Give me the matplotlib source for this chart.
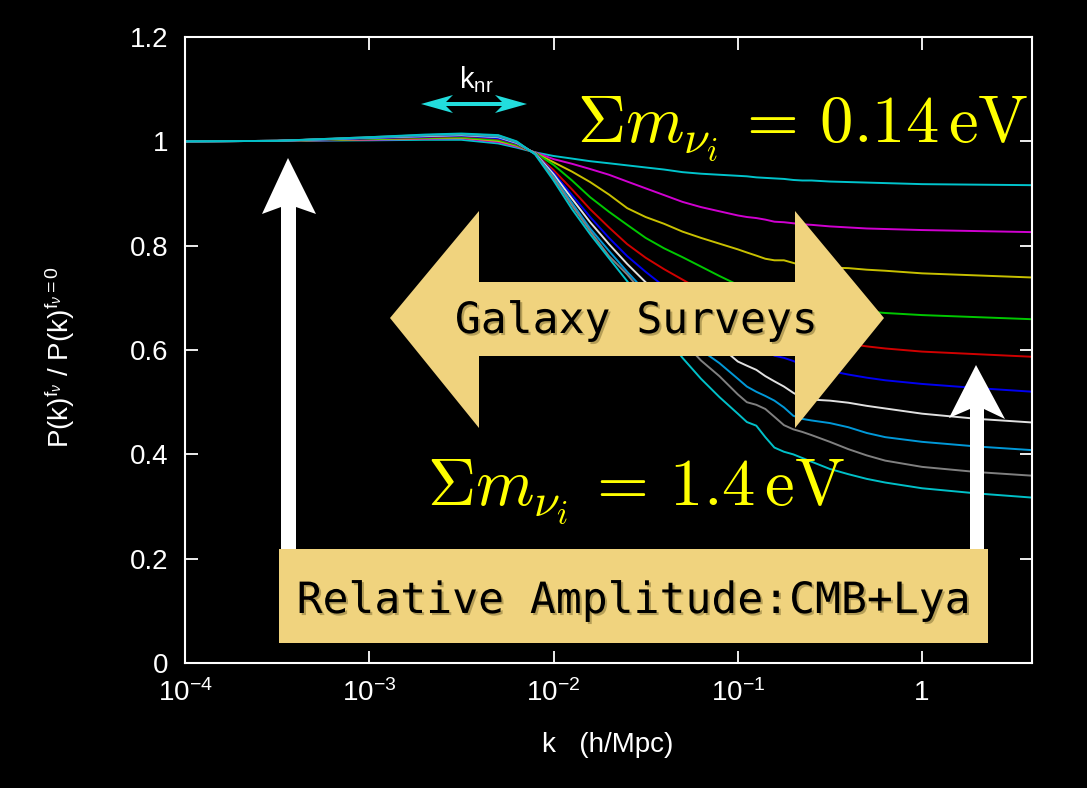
import matplotlib
matplotlib.use("Agg")
import matplotlib.pyplot as plt
import matplotlib.patheffects as pe
from matplotlib.patches import Polygon, Rectangle
from matplotlib.ticker import NullLocator

plt.rcParams['font.family'] = ['Liberation Sans', 'DejaVu Sans']
plt.rcParams['mathtext.fontset'] = 'custom'
plt.rcParams['mathtext.rm'] = 'Liberation Sans'
plt.rcParams['mathtext.it'] = 'Liberation Sans:italic'
plt.rcParams['mathtext.bf'] = 'Liberation Sans:bold'

# wavenumber grid (h/Mpc)
k = [1e-4, 3.16e-4, 1e-3, 2e-3, 3.16e-3, 5.01e-3, 6.31e-3, 7.94e-3,
     0.01, 0.0126, 0.0158, 0.02, 0.0251, 0.0316, 0.0398, 0.0501, 0.0631, 0.0794,
     0.1, 0.112, 0.126, 0.141, 0.158, 0.178, 0.2, 0.224, 0.251,
     0.316, 0.398, 0.501, 0.631, 1.0, 2.0, 4.0]

# suppression ratio, lightest to heaviest neutrino mass
r_cyan_top = [1.0, 1.001, 1.002, 1.003, 1.003, 0.996, 0.988, 0.979,
              0.972, 0.967, 0.962, 0.958, 0.954, 0.950, 0.946, 0.941, 0.938, 0.936,
              0.934, 0.933, 0.931, 0.930, 0.929, 0.928, 0.926, 0.925, 0.925,
              0.923, 0.922, 0.921, 0.920, 0.918, 0.917, 0.916]
r_magenta = [1.0, 1.001, 1.003, 1.005, 1.006, 0.999, 0.990, 0.979,
             0.966, 0.957, 0.947, 0.936, 0.923, 0.910, 0.897, 0.884, 0.874, 0.866,
             0.858, 0.855, 0.853, 0.850, 0.846, 0.845, 0.843, 0.841, 0.840,
             0.837, 0.835, 0.833, 0.832, 0.830, 0.828, 0.826]
r_yellow = [1.0, 1.001, 1.004, 1.006, 1.007, 1.001, 0.992, 0.978,
            0.960, 0.942, 0.922, 0.898, 0.872, 0.855, 0.842, 0.827, 0.815, 0.804,
            0.793, 0.787, 0.781, 0.775, 0.772, 0.772, 0.767, 0.762, 0.760,
            0.758, 0.757, 0.754, 0.752, 0.747, 0.743, 0.739]
r_green = [1.0, 1.001, 1.005, 1.007, 1.008, 1.003, 0.993, 0.978,
           0.955, 0.925, 0.893, 0.865, 0.840, 0.815, 0.795, 0.778, 0.760, 0.742,
           0.725, 0.717, 0.712, 0.706, 0.700, 0.696, 0.693, 0.689, 0.686,
           0.681, 0.677, 0.674, 0.671, 0.667, 0.663, 0.659]
r_red = [1.0, 1.001, 1.006, 1.008, 1.010, 1.005, 0.995, 0.977,
         0.945, 0.908, 0.870, 0.835, 0.803, 0.777, 0.755, 0.735, 0.715, 0.697,
         0.680, 0.672, 0.665, 0.658, 0.651, 0.645, 0.640, 0.634, 0.629,
         0.620, 0.612, 0.607, 0.603, 0.597, 0.592, 0.587]
r_blue = [1.0, 1.001, 1.006, 1.009, 1.011, 1.006, 0.996, 0.977,
          0.940, 0.897, 0.855, 0.815, 0.780, 0.750, 0.722, 0.698, 0.675, 0.655,
          0.637, 0.625, 0.614, 0.600, 0.589, 0.585, 0.579, 0.572, 0.567,
          0.560, 0.553, 0.547, 0.542, 0.535, 0.527, 0.520]
r_white = [1.0, 1.001, 1.007, 1.010, 1.012, 1.008, 0.997, 0.977,
           0.937, 0.890, 0.845, 0.803, 0.765, 0.730, 0.700, 0.670, 0.637, 0.608,
           0.578, 0.570, 0.562, 0.550, 0.540, 0.530, 0.518, 0.508, 0.505,
           0.503, 0.499, 0.493, 0.488, 0.478, 0.468, 0.461]
r_skyblue = [1.0, 1.001, 1.007, 1.011, 1.013, 1.009, 0.998, 0.976,
             0.933, 0.882, 0.833, 0.790, 0.750, 0.712, 0.672, 0.635, 0.600, 0.575,
             0.545, 0.530, 0.520, 0.512, 0.503, 0.490, 0.474, 0.468, 0.465,
             0.460, 0.452, 0.441, 0.433, 0.424, 0.415, 0.408]
r_gray = [1.0, 1.001, 1.008, 1.012, 1.014, 1.011, 0.999, 0.976,
          0.930, 0.877, 0.828, 0.780, 0.745, 0.703, 0.660, 0.618, 0.580, 0.550,
          0.515, 0.500, 0.495, 0.487, 0.472, 0.456, 0.448, 0.443, 0.437,
          0.424, 0.410, 0.398, 0.388, 0.376, 0.366, 0.359]
r_cyan_bot = [1.0, 1.001, 1.008, 1.013, 1.015, 1.012, 1.000, 0.975,
              0.925, 0.870, 0.822, 0.776, 0.732, 0.685, 0.630, 0.585, 0.545, 0.510,
              0.478, 0.462, 0.455, 0.433, 0.413, 0.405, 0.400, 0.393, 0.386,
              0.372, 0.362, 0.353, 0.346, 0.335, 0.325, 0.317]

curves = [r_cyan_top, r_magenta, r_yellow, r_green, r_red,
          r_blue, r_white, r_skyblue, r_gray, r_cyan_bot]
colors = ['#00c4cc', '#d000d0', '#c8c000', '#00c800', '#d00000',
          '#0000f0', '#e0e0e0', '#0098d8', '#808080', '#00c0c8']

xticks = [1e-4, 1e-3, 1e-2, 1e-1, 1]
xticklabels = ['$10^{-4}$', '$10^{-3}$', '$10^{-2}$', '$10^{-1}$', '1']
yticks = [0, 0.2, 0.4, 0.6, 0.8, 1.0, 1.2]
yticklabels = ['0', '0.2', '0.4', '0.6', '0.8', '1', '1.2']

fig = plt.figure(figsize=(10.87, 7.88), dpi=100, facecolor='black')
ax = fig.add_axes([0.1702, 0.1586, 0.7792, 0.7944], facecolor='black')

for vals, c in zip(curves, colors):
    ax.plot(k, vals, color=c, lw=1.4)

ax.set_xscale('log')
ax.set_xlim(1e-4, 3.95)
ax.set_ylim(0, 1.2)
ax.set_xticks(xticks)
ax.set_xticklabels(xticklabels)
ax.xaxis.set_minor_locator(NullLocator())
ax.set_yticks(yticks)
ax.set_yticklabels(yticklabels)
ax.tick_params(which='both', direction='in', length=9, width=1.3, colors='white',
               top=True, right=True, labelsize=20, pad=12)
for s in ax.spines.values():
    s.set_color('white')
    s.set_linewidth(1.5)

# overlay in pixel units for the annotations
ov = fig.add_axes([0, 0, 1, 1])
ov.set_xlim(0, 1087)
ov.set_ylim(788, 0)
ov.axis('off')
ov.patch.set_alpha(0)

ov.text(60, 357, r'P(k)$^{\mathrm{f}_\nu}$ / P(k)$^{\mathrm{f}_\nu\mathrm{=0}}$',
        rotation=90, color='white', fontsize=20, ha='center', va='center')
ov.text(608, 745, 'k   (h/Mpc)', color='white', fontsize=20, ha='center', va='center')

gold = '#f0d37e'
shadow = [pe.withSimplePatchShadow(offset=(1.5, -1.5), shadow_rgbFace='#6e5e28', alpha=0.45)]

# white arrows
ov.add_patch(Polygon([(281, 560), (281, 207), (262, 214), (288, 158), (316, 214),
                      (296, 207), (296, 560)], closed=True, fc='white', ec='none', zorder=3))
ov.add_patch(Polygon([(970, 560), (970, 409), (949, 418), (976, 365), (1005, 419),
                      (984, 409), (984, 560)], closed=True, fc='white', ec='none', zorder=3))

# galaxy surveys double arrow
ov.add_patch(Polygon([(390, 318), (479, 211), (479, 282), (795, 282), (795, 211),
                      (884, 318), (795, 428), (795, 356), (479, 356), (479, 428)],
                     closed=True, fc=gold, ec='none', zorder=4))
ov.text(636, 333, 'Galaxy Surveys', family='DejaVu Sans Mono', fontsize=31,
        color='black', ha='center', va='baseline', zorder=5, path_effects=shadow)

# relative amplitude box
ov.add_patch(Rectangle((279, 549), 709, 94, fc=gold, ec='none', zorder=4))
ov.text(633, 613, 'Relative Amplitude:CMB+Lya', family='DejaVu Sans Mono', fontsize=31,
        color='black', ha='center', va='baseline', zorder=5, path_effects=shadow)

# mass labels
ov.text(577, 142, r'$\Sigma m_{\nu_i}\,=\,0.14\,\mathrm{eV}$', math_fontfamily='cm',
        fontsize=48, color='#ffff00', ha='left', va='baseline', zorder=6)
ov.text(427, 505, r'$\Sigma m_{\nu_i}\,=\,1.4\,\mathrm{eV}$', math_fontfamily='cm',
        fontsize=48, color='#ffff00', ha='left', va='baseline', zorder=6)

# k_nr marker: two-headed arrow
ov.add_patch(Polygon([(421, 104), (453, 95), (446, 102), (502, 102), (495, 95),
                      (527, 104), (495, 113), (502, 106), (446, 106), (453, 113)],
                     closed=True, fc='#22dddd', ec='none', zorder=6))
ov.text(476, 88, r'k$_{\mathrm{nr}}$', color='white', fontsize=21,
        ha='center', va='baseline', zorder=6)

fig.savefig('out.png', dpi=100, facecolor='black')
